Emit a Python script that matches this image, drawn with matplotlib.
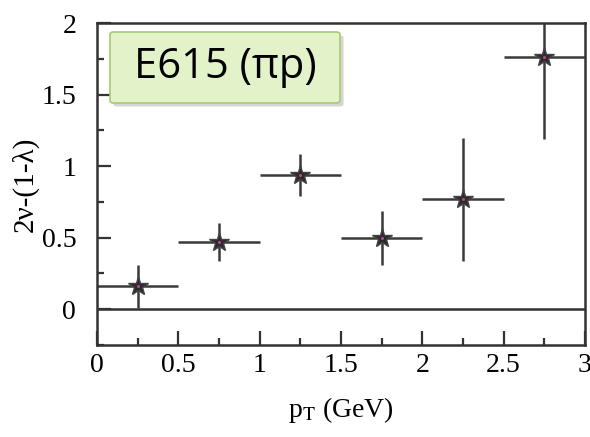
import matplotlib
matplotlib.use("Agg")
import matplotlib.pyplot as plt
import matplotlib.patches as mpatches
from matplotlib.ticker import MultipleLocator

# data
pt_centres = [0.25, 0.75, 1.25, 1.75, 2.25, 2.75]
pt_halfwidth = [0.25, 0.25, 0.25, 0.25, 0.25, 0.25]
lam_ng = [0.16, 0.47, 0.94, 0.50, 0.77, 1.76]
lam_err = [0.15, 0.13, 0.145, 0.19, 0.43, 0.57]

plt.rcParams["mathtext.fontset"] = "stix"
SERIF = "Liberation Serif"
INK = "#333333"

fig = plt.figure(figsize=(5.9, 4.37), dpi=100)
ax = fig.add_axes([0.1644, 0.2105, 0.827, 0.7365])

ax.axhline(0, color=INK, lw=1.8, zorder=1)
ax.errorbar(pt_centres, lam_ng, xerr=pt_halfwidth, yerr=lam_err, fmt="none",
            ecolor="#3a3a3a", elinewidth=1.8, capsize=0, zorder=2)
ax.plot(pt_centres, lam_ng, ls="none", marker="*", ms=15, mfc="#2b2b2b",
        mec="#444444", mew=1.0, zorder=3)
ax.plot(pt_centres, lam_ng, ls="none", marker="o", ms=2.2, mfc="#c040a0",
        mec="none", zorder=4)

ax.set_xlim(0, 3)
ax.set_ylim(-0.25, 2.0)
ax.xaxis.set_minor_locator(MultipleLocator(0.25))
ax.yaxis.set_minor_locator(MultipleLocator(0.25))
ax.tick_params(which="both", direction="in", top=False, right=False,
               color=INK, width=1.6, labelsize=20)
ax.tick_params(which="major", length=10)
ax.tick_params(which="minor", length=5)
ax.tick_params(axis="x", which="major", pad=6)
ax.tick_params(axis="y", which="major", pad=15)
ax.set_xticks([0, 0.5, 1, 1.5, 2, 2.5, 3])
ax.set_xticklabels(["0", "0.5", "1", "1.5", "2", "2.5", "3"])
ax.set_yticks([0, 0.5, 1, 1.5, 2])
ax.set_yticklabels(["0", "0.5", "1", "1.5", "2"])
for lab in ax.get_xticklabels() + ax.get_yticklabels():
    lab.set_fontfamily(SERIF)
for sp in ax.spines.values():
    sp.set_color(INK)
    sp.set_linewidth(1.8)

ax.set_xlabel(r"p$_\mathrm{T}$ (GeV)", fontsize=20, fontfamily=SERIF, labelpad=12)
ax.set_ylabel("2ν-(1-λ)", fontsize=21, fontfamily=SERIF, labelpad=2)

# label box with shadow
x0, y0, w, h = 110 / 590, 1 - 103 / 437, 230 / 590, 71 / 437
shadow = mpatches.FancyBboxPatch((x0 + 0.006, y0 - 0.008), w, h,
                                 boxstyle="round,pad=0,rounding_size=0.006",
                                 transform=fig.transFigure, fc="#bbbbbb",
                                 ec="none", alpha=0.6, zorder=5)
box = mpatches.FancyBboxPatch((x0, y0), w, h,
                              boxstyle="round,pad=0,rounding_size=0.006",
                              transform=fig.transFigure, fc="#e2f2c9",
                              ec="#a8cc6e", lw=1.2, zorder=6)
fig.patches.extend([shadow, box])
fig.text(x0 + w / 2, y0 + h / 2, "E615 (πp)", fontsize=30,
         family=["Open Sans", "DejaVu Sans"], ha="center", va="center",
         color="black", zorder=7)

fig.savefig("out.png", dpi=100, facecolor="white")
